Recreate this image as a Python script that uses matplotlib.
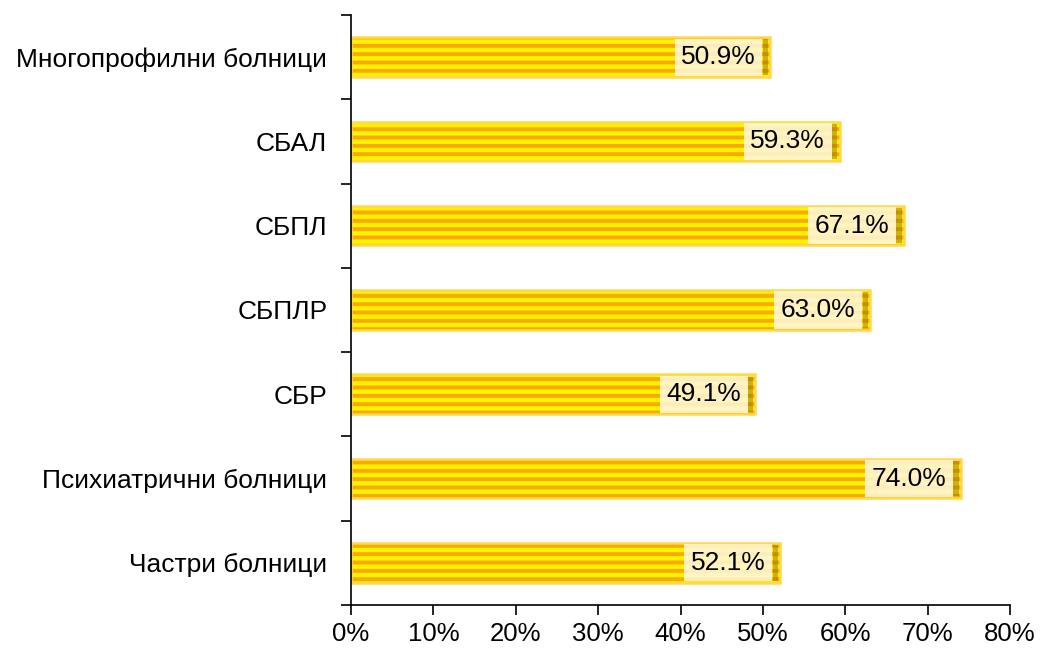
import numpy as np
import matplotlib
matplotlib.use('Agg')
import matplotlib.pyplot as plt

plt.rcParams['font.family'] = ['Liberation Sans', 'DejaVu Sans']
plt.rcParams['hatch.linewidth'] = 2.8

categories = ['Многопрофилни болници', 'СБАЛ', 'СБПЛ', 'СБПЛР', 'СБР',
              'Психиатрични болници', 'Частри болници']
values = [50.9, 59.3, 67.1, 63.0, 49.1, 74.0, 52.1]

fig = plt.figure(figsize=(10.43, 6.51), dpi=100)
ax = fig.add_axes([0.3365, 0.0707, 0.9684 - 0.3365, 0.977 - 0.0707])

y = np.arange(len(categories))
# striped fill (hatch colour follows edge colour)
ax.barh(y, values, height=0.47, color='#FFF200', edgecolor='#F8AA00',
        linewidth=0, hatch='--')
# light golden outline
ax.barh(y, values, height=0.47, color='none', edgecolor='#FFD84E',
        linewidth=1.8)
# darker end cap of each bar
ax.barh(y, [0.65] * len(values), left=np.array(values) - 0.9, height=0.42,
        color='#8A6A10', alpha=0.45, linewidth=0)

for yi, v in zip(y, values):
    ax.text(v - 1.75, yi, f'{v:.1f}%', ha='right', va='center', fontsize=19,
            bbox=dict(boxstyle='square,pad=0.25', facecolor='#FFF6DA',
                      edgecolor='none', alpha=0.88))

ax.set_xlim(0, 80)
ax.set_ylim(len(categories) - 0.5, -0.5)
ax.set_xticks(np.arange(0, 81, 10))
ax.set_xticklabels([f'{t}%' for t in range(0, 81, 10)], fontsize=18.5)
ax.set_yticks(y)
ax.set_yticklabels(categories, fontsize=19)
ax.tick_params(axis='y', length=0, pad=17)
ax.set_yticks(np.arange(-0.5, len(categories)), minor=True)
ax.tick_params(axis='y', which='minor', length=7, direction='out', width=1.2)
ax.tick_params(axis='x', length=7, direction='out', width=1.2, pad=5)

for s in ['top', 'right']:
    ax.spines[s].set_visible(False)
ax.spines['left'].set_linewidth(1.2)
ax.spines['bottom'].set_linewidth(1.2)

plt.savefig('out.png', dpi=100)
plt.close()
